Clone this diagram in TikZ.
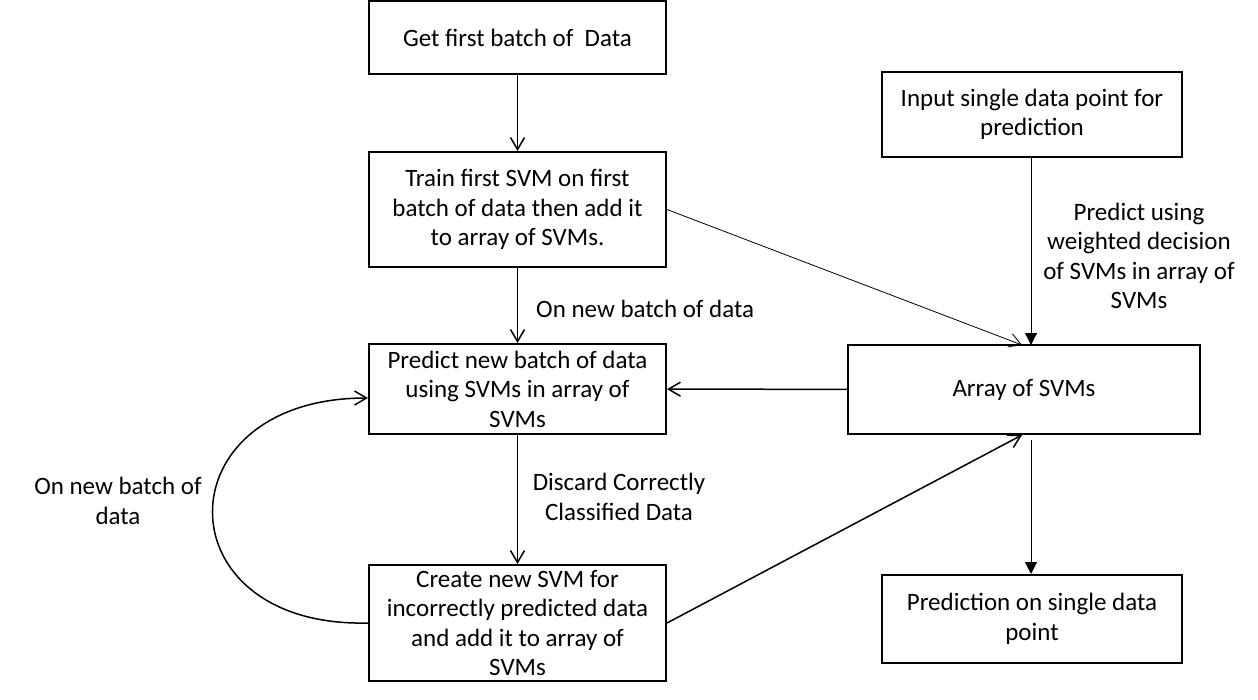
\documentclass[tikz,border=0pt]{standalone}
\usepackage{fontspec}
\setmainfont{Carlito}
\usetikzlibrary{arrows.meta}
\tikzset{
  box/.style={draw, line width=2pt, align=center, inner sep=0pt, font=\fontsize{25}{29.5}\selectfont},
  lbl/.style={align=center, inner sep=0pt, font=\fontsize{25}{29.5}\selectfont},
  arr/.style={line width=1.5pt, -{Straight Barb[length=12pt,width=14pt]}},
  thinarr/.style={line width=0.8pt, -{Straight Barb[length=12pt,width=14pt]}},
  farr/.style={line width=1pt, -{Triangle[length=12pt,width=12pt]}},
}
\begin{document}
\begin{tikzpicture}[x=1pt,y=-1pt]
\useasboundingbox (0,0) rectangle (1258,699);
\node[box, minimum width=297pt, minimum height=73pt] (get) at (517.5,37.5) {Get first batch of \ Data};
\node[box, minimum width=297pt, minimum height=115pt] (train) at (517.5,209.5) {Train first SVM on first\\batch of data then add it\\to array of SVMs.};
\node[box, minimum width=297pt, minimum height=90pt] (predict) at (517.5,389) {Predict new batch of data\\using SVMs in array of\\SVMs};
\node[box, minimum width=297pt, minimum height=116pt] (create) at (517.5,623) {Create new SVM for\\incorrectly predicted data\\and add it to array of\\SVMs};
\node[box, minimum width=300pt, minimum height=85pt] (input) at (1032,114.5) {Input single data point for\\prediction};
\node[box, minimum width=352pt, minimum height=89pt] (array) at (1024,389.5) {Array of SVMs};
\node[box, minimum width=300pt, minimum height=88pt] (pred) at (1032,619) {Prediction on single data\\point};

\node[lbl, anchor=west] (l1) at (536,309) {On new batch of data};
\node[lbl] (l2) at (619,497) {Discard Correctly\\Classified Data};
\node[lbl] (l3) at (1139,256) {Predict using\\weighted decision\\of SVMs in array of\\SVMs};
\node[lbl] (l4) at (118,501) {On new batch of\\data};

\coordinate (atop) at (1022,345);
\coordinate (abot) at (1022,435);
\coordinate (ain) at (1031,345);
\coordinate (aout) at (1031,440);

\draw[arr] (get) -- (train);
\draw[arr] (train) -- (predict);
\draw[arr] (array) -- (predict);
\draw[arr] (predict) -- (create);
\draw[arr] (create.east) -- (abot);
\draw[thinarr] (train.east) -- (atop);
\draw[farr] (input.south -| ain) -- (ain);
\draw[farr] (aout) -- (pred.north -| aout);
\draw[arr] (create.west) .. controls (161,628) and (161,398) .. ([yshift=-9pt]predict.west);
\end{tikzpicture}
\end{document}
